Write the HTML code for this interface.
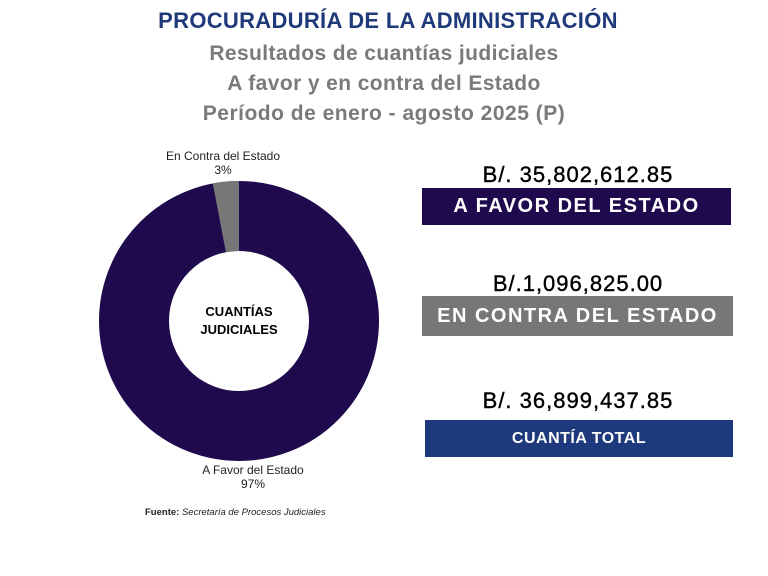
<!DOCTYPE html>
<html><head><meta charset="utf-8"><style>
body{margin:0;width:768px;height:576px;background:#fff;position:relative;font-family:"Liberation Sans",sans-serif;overflow:hidden}
.t{position:absolute;left:0;width:768px;text-align:center;font-weight:bold;white-space:nowrap}
.a{position:absolute;text-align:center;white-space:nowrap}
.n{-webkit-text-stroke:0.4px #000;font-size:22px;letter-spacing:1px}
.box{position:absolute;color:#fff;text-align:center;font-weight:bold;letter-spacing:1.5px}
</style></head><body>
<div class="t" style="top:8px;left:4px;font-size:22px;color:#1f3a7a;letter-spacing:0.3px">PROCURADURÍA DE LA ADMINISTRACIÓN</div>
<div class="t" style="top:42px;left:0px;font-size:21px;color:#7a7a7a;letter-spacing:0.4px">Resultados de cuantías judiciales</div>
<div class="t" style="top:72px;left:0px;font-size:21px;color:#7a7a7a;letter-spacing:0.4px">A favor y en contra del Estado</div>
<div class="t" style="top:102px;left:0px;font-size:21px;color:#7a7a7a;letter-spacing:0.5px">Período de enero - agosto 2025 (P)</div>
<svg width="768" height="576" style="position:absolute;left:0;top:0">
<circle cx="239" cy="321" r="105" fill="none" stroke="#1e0a4c" stroke-width="70"/>
<path d="M239,181 A140,140 0 0 0 212.8,183.5 L225.9,252.2 A70,70 0 0 1 239,251 Z" fill="#777"/>
</svg>
<div class="a" style="left:239px;transform:translateX(-50%);top:303px;font-size:13px;font-weight:bold;line-height:18px">CUANTÍAS<br>JUDICIALES</div>
<div class="a" style="left:223px;transform:translateX(-50%);top:149px;font-size:12px;line-height:14px;color:#222">En Contra del Estado<br>3%</div>
<div class="a" style="left:253px;transform:translateX(-50%);top:463px;font-size:12px;line-height:14px;color:#222">A Favor del Estado<br>97%</div>
<div class="a" style="left:145px;top:507px;font-size:9.5px;color:#222"><b>Fuente:</b> <i>Secretaría de Procesos Judiciales</i></div>
<div class="a n" style="left:422px;width:312px;top:162px">B/. 35,802,612.85</div>
<div class="box" style="left:422px;top:188px;width:309px;height:37px;line-height:37px;background:#1e0a4c;font-size:20px">A FAVOR DEL ESTADO</div>
<div class="a n" style="left:422px;width:312px;top:271px">B/.1,096,825.00</div>
<div class="box" style="left:422px;top:296px;width:311px;height:40px;line-height:40px;background:#777;font-size:20px">EN CONTRA DEL ESTADO</div>
<div class="a n" style="left:422px;width:312px;top:388px">B/. 36,899,437.85</div>
<div class="box" style="left:425px;top:420px;width:308px;height:37px;line-height:37px;background:#1e3a7c;font-size:16px;letter-spacing:0.5px">CUANTÍA TOTAL</div>
</body></html>
